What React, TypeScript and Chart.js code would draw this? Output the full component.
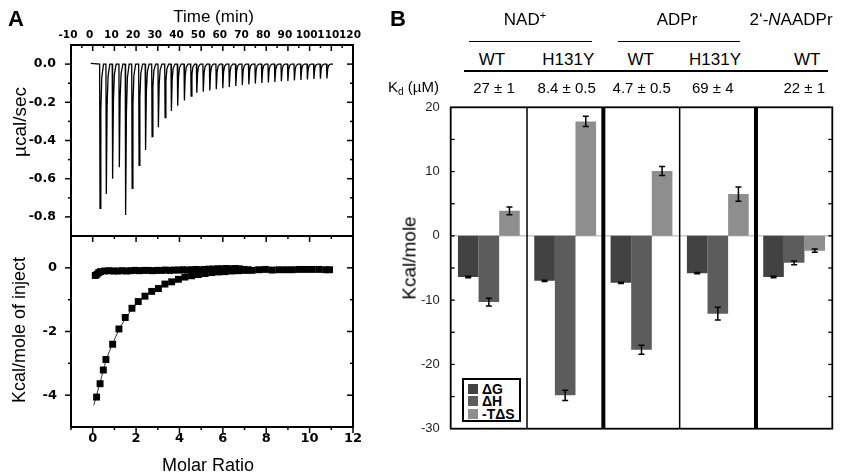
import React, { useEffect, useRef } from 'react';
import { Chart, registerables } from 'chart.js';
Chart.register(...registerables);

// ================= DATA =================
// Panel A (top): raw ITC trace, injection times (min) and peak heights (µcal/sec)
const injectionTimes = [3.2, 6.1, 9.0, 12.1, 15.0, 18.0, 21.2, 24.2, 27.2, 30.1, 33.2, 36.1, 39.0, 42.1, 45.2, 47.8,
  50.8, 53.8, 56.8, 59.8, 62.8, 65.8, 68.8, 71.8, 74.8, 77.8, 80.8, 83.8, 86.8, 89.8, 92.8, 95.8, 98.8, 101.8, 104.8, 107.8];
const injectionPeaks = [-0.755, -0.68, -0.6, -0.54, -0.79, -0.65, -0.53, -0.45, -0.38, -0.33, -0.28, -0.245, -0.218, -0.19, -0.167, -0.15,
  -0.145, -0.138, -0.132, -0.126, -0.12, -0.115, -0.11, -0.106, -0.102, -0.099, -0.096, -0.093, -0.09, -0.088, -0.085, -0.083, -0.08, -0.078, -0.076, -0.075];
const traceStartTime = -0.9;
const traceEndTime = 110.8;
const timeTicks = [-10, 0, 10, 20, 30, 40, 50, 60, 70, 80, 90, 100, 110, 120];
const timeMinorTicks = [-5, 5, 15, 25, 35, 45, 55, 65, 75, 85, 95, 105, 115];
const rateTicks = [0, -0.2, -0.4, -0.6, -0.8];
const rateMinorTicks = [-0.1, -0.3, -0.5, -0.7];

// Panel A (bottom): integrated heats
const molarRatio = [0.18, 0.34, 0.49, 0.61, 0.92, 1.21, 1.5, 1.81, 2.1, 2.41, 2.72, 3.03, 3.33, 3.64, 3.95, 4.25, 4.56,
  4.87, 5.18, 5.49, 5.8, 6.1, 6.41, 6.72, 7.03, 7.34, 7.65, 7.96, 8.27, 8.58, 8.89, 9.2, 9.5, 9.81, 10.12, 10.43, 10.74, 10.92];
const heatPerInjection = [-4.06, -3.64, -3.21, -2.88, -2.4, -1.92, -1.56, -1.27, -1.06, -0.89, -0.74, -0.65, -0.51, -0.44, -0.36, -0.29, -0.25,
  -0.21, -0.18, -0.15, -0.13, -0.12, -0.1, -0.09, -0.08, -0.08, -0.06, -0.05, -0.07, -0.06, -0.06, -0.06, -0.05, -0.05, -0.05, -0.05, -0.06, -0.06];
const controlRatio = [0.12, 0.2, 0.28, 0.36, 0.56, 0.76, 0.96, 1.16, 1.36, 1.56, 1.76, 1.96, 2.16, 2.36, 2.56, 2.76, 2.96, 3.16, 3.36,
  3.56, 3.76, 3.96, 4.16, 4.36, 4.56, 4.76, 4.96, 5.16, 5.36, 5.56, 5.76, 5.96, 6.16, 6.36, 6.56, 6.76, 6.96, 7.16];
const controlHeat = [-0.24, -0.2, -0.15, -0.12, -0.1, -0.09, -0.1, -0.1, -0.09, -0.1, -0.09, -0.08, -0.09, -0.08, -0.08, -0.09, -0.08, -0.08, -0.07,
  -0.08, -0.07, -0.07, -0.06, -0.07, -0.06, -0.05, -0.06, -0.05, -0.04, -0.04, -0.03, -0.03, -0.02, -0.03, -0.02, -0.03, -0.05, -0.06];
const fitRatio = [0.05, 0.18, 0.34, 0.49, 0.61, 0.92, 1.21, 1.5, 1.81, 2.1, 2.41, 2.72, 3.03, 3.5, 4.0, 4.5, 5.0, 6.0, 7.0, 8.0, 9.0, 10.0, 10.9];
const fitHeat = [-4.32, -4.0, -3.6, -3.22, -2.92, -2.38, -1.95, -1.6, -1.3, -1.08, -0.9, -0.76, -0.64, -0.5, -0.39, -0.31, -0.25, -0.17, -0.13, -0.1, -0.08, -0.07, -0.06];
const ratioTicks = [0, 2, 4, 6, 8, 10, 12];
const ratioMinorTicks = [-1, 1, 3, 5, 7, 9, 11];
const heatTicks = [0, -2, -4];
const heatMinorTicks = [-1, -3];

// Panel B: thermodynamic parameters
const ligands = ['NAD+', 'NAD+', 'ADPr', 'ADPr', "2'-NAADPr"];
const proteins = ['WT', 'H131Y', 'WT', 'H131Y', 'WT'];
const kdLabels = ['27 ± 1', '8.4 ± 0.5', '4.7 ± 0.5', '69 ± 4', '22 ± 1'];
const deltaG = [-6.4, -7.0, -7.3, -5.8, -6.4];
const deltaGErr = [0.1, 0.1, 0.1, 0.1, 0.1];
const deltaH = [-10.3, -24.8, -17.7, -12.1, -4.2];
const deltaHErr = [0.6, 0.8, 0.7, 1.0, 0.3];
const minusTdS = [3.9, 17.8, 10.1, 6.5, -2.3];
const minusTdSErr = [0.6, 0.8, 0.7, 1.1, 0.25];
const kcalTicks = [20, 10, 0, -10, -20, -30];
const kcalSideTicks = [15, 10, 5, 0, -5, -10, -15, -20, -25];
const seriesNames = ['ΔG', 'ΔH', '-TΔS'];
const seriesColors = ['#424242', '#5c5c5c', '#8e8e8e'];

// ================= HELPERS =================
const ARIAL = '"Liberation Sans", Arial, Helvetica, sans-serif';
const DEJAVU = '"DejaVu Sans", Verdana, sans-serif';

type Side = { scale: string; edge: 'top' | 'bottom' | 'left' | 'right'; major: number[]; minor: number[]; dir: number; majorLen: number; minorLen: number };

function framePlugin(sides: Side[], frameWidth: number, tickWidth: number) {
  return {
    id: 'frameTicks',
    afterDatasetsDraw(chart: any) {
      const { ctx, chartArea: a } = chart;
      ctx.save();
      ctx.strokeStyle = '#000';
      ctx.lineWidth = tickWidth;
      for (const s of sides) {
        const sc = chart.scales[s.scale];
        const draw = (v: number, len: number) => {
          const p = sc.getPixelForValue(v);
          ctx.beginPath();
          if (s.edge === 'top') { ctx.moveTo(p, a.top); ctx.lineTo(p, a.top + s.dir * len); }
          else if (s.edge === 'bottom') { ctx.moveTo(p, a.bottom); ctx.lineTo(p, a.bottom - s.dir * len); }
          else if (s.edge === 'left') { ctx.moveTo(a.left, p); ctx.lineTo(a.left + s.dir * len, p); }
          else { ctx.moveTo(a.right, p); ctx.lineTo(a.right - s.dir * len, p); }
          ctx.stroke();
        };
        s.major.forEach((v) => draw(v, s.majorLen));
        s.minor.forEach((v) => draw(v, s.minorLen));
      }
      ctx.lineWidth = frameWidth;
      ctx.strokeRect(a.left, a.top, a.right - a.left, a.bottom - a.top);
      ctx.restore();
    },
  };
}

const fixedTicks = (vals: number[]) => (s: any) => { s.ticks = vals.map((v) => ({ value: v })); };

function Txt(props: { x: number; y: number; size: number; bold?: boolean; anchor?: 'start' | 'middle' | 'end'; family?: string; children: any }) {
  const { x, y, size, bold, anchor = 'middle', family = ARIAL, children } = props;
  const tx = anchor === 'middle' ? '-50%' : anchor === 'end' ? '-100%' : '0';
  return (
    <div style={{ position: 'absolute', left: x, top: y - 0.8465 * size, fontSize: size, lineHeight: 1, fontFamily: family,
      fontWeight: bold ? 'bold' : 'normal', whiteSpace: 'nowrap', transform: `translateX(${tx})`, color: '#000' }}>{children}</div>
  );
}

function VTxt(props: { cx: number; cy: number; size: number; children: any }) {
  const { cx, cy, size, children } = props;
  return (
    <div style={{ position: 'absolute', left: cx, top: cy, transform: 'translate(-50%,-50%) rotate(-90deg)', fontSize: size,
      lineHeight: 1, fontFamily: ARIAL, whiteSpace: 'nowrap', color: '#000' }}>{children}</div>
  );
}

function Rule(props: { x1: number; x2: number; y: number; w: number }) {
  return <div style={{ position: 'absolute', left: props.x1, top: props.y - props.w / 2, width: props.x2 - props.x1, height: props.w, background: '#000' }} />;
}

// ================= APP =================
export default function App() {
  const topRef = useRef<HTMLCanvasElement>(null);
  const botRef = useRef<HTMLCanvasElement>(null);
  const barRef = useRef<HTMLCanvasElement>(null);

  useEffect(() => {
    // ----- raw trace built from injection times/peaks -----
    const spikeShape = [[0, 0], [0.18, 1], [0.55, 0.32], [1.0, 0.09], [1.8, 0.0]];
    const trace: { x: number; y: number }[] = [{ x: traceStartTime, y: 0.004 }];
    injectionTimes.forEach((t, i) => {
      spikeShape.forEach(([dt, f]) => trace.push({ x: t + dt, y: injectionPeaks[i] * f }));
    });
    trace.push({ x: traceEndTime, y: 0 });

    const tickFontA = (size: number) => ({ family: DEJAVU, weight: 'bold' as const, size });

    const chartTop = new Chart(topRef.current!, {
      type: 'scatter',
      data: { datasets: [{ data: trace, showLine: true, borderColor: '#000', borderWidth: 1.3, pointRadius: 0, tension: 0 }] },
      options: {
        animation: false, responsive: false, maintainAspectRatio: false,
        layout: { padding: { left: 0, right: 17, top: 0, bottom: 14 } },
        plugins: { legend: { display: false }, tooltip: { enabled: false } },
        scales: {
          x: {
            type: 'linear', position: 'top', min: -10, max: 120,
            grid: { display: false, drawTicks: false }, border: { display: false },
            afterBuildTicks: fixedTicks(timeTicks),
            ticks: { font: tickFontA(10.5), color: '#000', padding: 3, maxRotation: 0, autoSkip: false, labelOffset: -3, callback: (v: any) => String(v) },
            afterFit: (s: any) => { s.height = 45; s.paddingLeft = 0; s.paddingRight = 0; },
          },
          y: {
            type: 'linear', min: -0.9, max: 0.1,
            grid: { display: false, drawTicks: false }, border: { display: false },
            afterBuildTicks: fixedTicks(rateTicks),
            ticks: { font: tickFontA(12.5), color: '#000', padding: 15, callback: (v: any) => Number(v).toFixed(1) },
            afterFit: (s: any) => { s.width = 71; s.paddingTop = 0; s.paddingBottom = 0; },
          },
        },
      },
      plugins: [framePlugin([
        { scale: 'x', edge: 'top', major: timeTicks, minor: timeMinorTicks, dir: 1, majorLen: 6, minorLen: 3 },
        { scale: 'y', edge: 'left', major: rateTicks, minor: rateMinorTicks, dir: -1, majorLen: 6, minorLen: 3 },
        { scale: 'y', edge: 'right', major: rateTicks, minor: rateMinorTicks, dir: 1, majorLen: 6, minorLen: 3 },
      ], 2, 1.5)],
    } as any);

    const chartBot = new Chart(botRef.current!, {
      type: 'scatter',
      data: {
        datasets: [
          { data: molarRatio.map((x, i) => ({ x, y: heatPerInjection[i] })), pointStyle: 'rect', pointRadius: 4.9, backgroundColor: '#000', borderWidth: 0 },
          { data: controlRatio.map((x, i) => ({ x, y: controlHeat[i] })), pointStyle: 'rect', pointRadius: 4.9, backgroundColor: '#000', borderWidth: 0 },
          { data: fitRatio.map((x, i) => ({ x, y: fitHeat[i] })), showLine: true, pointRadius: 0, borderColor: '#333', borderWidth: 1, cubicInterpolationMode: 'monotone' },
        ],
      },
      options: {
        animation: false, responsive: false, maintainAspectRatio: false,
        layout: { padding: { left: 0, right: 17, top: 36, bottom: 29 } },
        plugins: { legend: { display: false }, tooltip: { enabled: false } },
        scales: {
          x: {
            type: 'linear', min: -1, max: 12,
            grid: { display: false, drawTicks: false }, border: { display: false },
            afterBuildTicks: fixedTicks(ratioTicks),
            ticks: { font: tickFontA(13), color: '#000', padding: 4, maxRotation: 0, autoSkip: false, callback: (v: any) => String(v) },
            afterFit: (s: any) => { s.height = 20; s.paddingLeft = 0; s.paddingRight = 0; },
          },
          y: {
            type: 'linear', min: -5, max: 1,
            grid: { display: false, drawTicks: false }, border: { display: false },
            afterBuildTicks: fixedTicks(heatTicks),
            ticks: { font: tickFontA(13), color: '#000', padding: 14, callback: (v: any) => String(v) },
            afterFit: (s: any) => { s.width = 71; s.paddingTop = 0; s.paddingBottom = 0; },
          },
        },
      },
      plugins: [framePlugin([
        { scale: 'x', edge: 'top', major: ratioTicks, minor: ratioMinorTicks, dir: 1, majorLen: 6, minorLen: 3 },
        { scale: 'x', edge: 'bottom', major: ratioTicks, minor: ratioMinorTicks, dir: -1, majorLen: 6, minorLen: 3 },
        { scale: 'y', edge: 'left', major: heatTicks, minor: heatMinorTicks, dir: -1, majorLen: 6, minorLen: 3 },
        { scale: 'y', edge: 'right', major: heatTicks, minor: heatMinorTicks, dir: 1, majorLen: 6, minorLen: 3 },
      ], 2, 1.5)],
    } as any);

    const values = [deltaG, deltaH, minusTdS];
    const errs = [deltaGErr, deltaHErr, minusTdSErr];

    const barExtras = {
      id: 'barExtras',
      beforeDatasetsDraw(chart: any) {
        const { ctx, chartArea: a, scales } = chart;
        const y0 = scales.y.getPixelForValue(0);
        ctx.save();
        ctx.strokeStyle = '#c8c8c8';
        ctx.lineWidth = 1.5;
        ctx.beginPath(); ctx.moveTo(a.left, y0); ctx.lineTo(a.right, y0); ctx.stroke();
        ctx.restore();
      },
      afterDatasetsDraw(chart: any) {
        const { ctx, chartArea: a, scales } = chart;
        ctx.save();
        ctx.strokeStyle = '#000';
        ctx.lineWidth = 1.5;
        values.forEach((vals, d) => {
          const meta = chart.getDatasetMeta(d);
          meta.data.forEach((el: any, i: number) => {
            const yA = scales.y.getPixelForValue(vals[i] - errs[d][i]);
            const yB = scales.y.getPixelForValue(vals[i] + errs[d][i]);
            ctx.beginPath();
            ctx.moveTo(el.x, yA); ctx.lineTo(el.x, yB);
            ctx.moveTo(el.x - 3, yA); ctx.lineTo(el.x + 3, yA);
            ctx.moveTo(el.x - 3, yB); ctx.lineTo(el.x + 3, yB);
            ctx.stroke();
          });
        });
        // group separators: thick where the ligand changes
        for (let i = 1; i < ligands.length; i++) {
          const xs = (scales.x.getPixelForValue(i - 1) + scales.x.getPixelForValue(i)) / 2;
          ctx.lineWidth = ligands[i] !== ligands[i - 1] ? 4 : 1.5;
          ctx.beginPath(); ctx.moveTo(xs, a.top); ctx.lineTo(xs, a.bottom); ctx.stroke();
        }
        ctx.restore();
      },
    };

    const chartBar = new Chart(barRef.current!, {
      type: 'bar',
      data: {
        labels: proteins.map((p, i) => `${ligands[i]} ${p}`),
        datasets: values.map((vals, d) => ({ label: seriesNames[d], data: vals, backgroundColor: seriesColors[d], borderWidth: 0,
          categoryPercentage: 0.81, barPercentage: 1.0 })),
      },
      options: {
        animation: false, responsive: false, maintainAspectRatio: false,
        layout: { padding: { left: 0, right: 17.7, top: 12.3, bottom: 11.3 } },
        plugins: { legend: { display: false }, tooltip: { enabled: false } },
        scales: {
          x: { display: false },
          y: {
            type: 'linear', min: -30, max: 20,
            grid: { display: false, drawTicks: false }, border: { display: false },
            afterBuildTicks: fixedTicks(kcalTicks),
            ticks: { font: { family: ARIAL, size: 13 }, color: '#222', padding: 11, callback: (v: any) => String(v) },
            afterFit: (s: any) => { s.width = 55.7; s.paddingTop = 0; s.paddingBottom = 0; },
          },
        },
      },
      plugins: [barExtras, framePlugin([
        { scale: 'y', edge: 'left', major: kcalSideTicks, minor: [], dir: 1, majorLen: 4, minorLen: 0 },
        { scale: 'y', edge: 'right', major: kcalSideTicks, minor: [], dir: 1, majorLen: 4, minorLen: 0 },
      ], 1.8, 1.3)],
    } as any);

    return () => { chartTop.destroy(); chartBot.destroy(); chartBar.destroy(); };
  }, []);

  const headerRow2X = [492, 568.3, 640.7, 715, 807.3];
  const kdX = [494, 566.7, 641.7, 712.7, 804.3];

  return (
    <div style={{ position: 'fixed', left: 0, top: 0, width: 850, height: 476, background: '#fff', overflow: 'hidden' }}>
      <canvas ref={topRef} width={370} height={250} style={{ position: 'absolute', left: 0, top: 0, width: 370, height: 250 }} />
      <canvas ref={botRef} width={370} height={276} style={{ position: 'absolute', left: 0, top: 200, width: 370, height: 276 }} />
      <canvas ref={barRef} width={455} height={345} style={{ position: 'absolute', left: 395, top: 95, width: 455, height: 345 }} />

      {/* Panel A text */}
      <Txt x={8} y={27} size={22} bold anchor="start">A</Txt>
      <Txt x={213.5} y={22} size={17}>Time (min)</Txt>
      <VTxt cx={19} cy={122} size={19}>µcal/sec</VTxt>
      <VTxt cx={19} cy={330} size={18}>Kcal/mole of inject</VTxt>
      <Txt x={208} y={471} size={18}>Molar Ratio</Txt>

      {/* Panel B text */}
      <Txt x={390} y={27} size={22} bold anchor="start">B</Txt>
      <Txt x={525} y={25} size={17}>NAD<span style={{ fontSize: 11, position: 'relative', top: -6 }}>+</span></Txt>
      <Txt x={677} y={25} size={17}>ADPr</Txt>
      <Txt x={791} y={25} size={17}>2‘-<i>N</i>AADPr</Txt>
      <Rule x1={469.3} x2={592} y={41.7} w={1.6} />
      <Rule x1={618.3} x2={740} y={41.7} w={1.6} />
      {proteins.map((p, i) => <Txt key={'p' + i} x={headerRow2X[i]} y={65.7} size={17}>{p}</Txt>)}
      <Rule x1={464.3} x2={827.7} y={71} w={2} />
      <Txt x={388} y={92} size={15} anchor="start">K<span style={{ fontSize: 10, position: 'relative', top: 3 }}>d</span> (µM)</Txt>
      {kdLabels.map((k, i) => <Txt key={'k' + i} x={kdX[i]} y={92.3} size={15}>{k}</Txt>)}
      <VTxt cx={409} cy={258} size={19}>Kcal/mole</VTxt>

      {/* Legend */}
      <div style={{ position: 'absolute', left: 462, top: 378, width: 59, height: 44, border: '2px solid #000', boxSizing: 'border-box', background: '#fff' }}>
        {seriesNames.map((n, i) => (
          <div key={n} style={{ position: 'absolute', left: 4, top: 2.5 + i * 12.5, height: 12.5, display: 'flex', alignItems: 'center' }}>
            <div style={{ width: 10, height: 10, background: seriesColors[i], marginRight: 4 }} />
            <span style={{ fontFamily: ARIAL, fontWeight: 'bold', fontSize: 14, lineHeight: 1 }}>{n}</span>
          </div>
        ))}
      </div>
    </div>
  );
}
